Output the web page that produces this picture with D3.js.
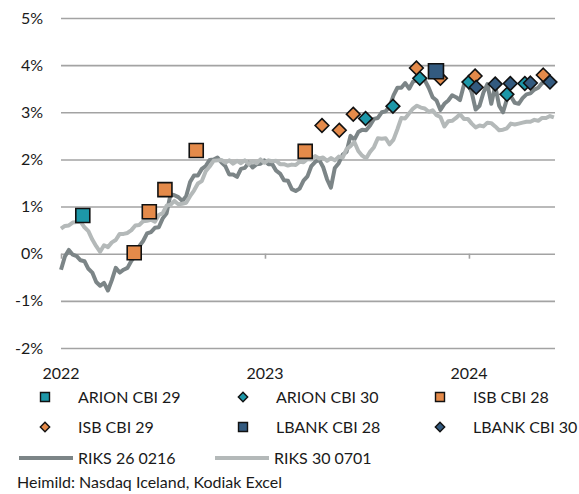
<!DOCTYPE html>
<html>
<head>
<meta charset="utf-8">
<script src="https://cdn.jsdelivr.net/npm/d3@7.9.0/dist/d3.min.js"></script>
<style>
  body { margin: 0; background: #fff; }
  svg text { font-family: Lato, "Noto Sans", sans-serif; font-size: 16px; fill: #1a1a1a; }
</style>
</head>
<body>
<div id="chart"></div>
<script>
// weekly yields (%) starting 2022-01-01
const seriesStart = '2022-01-01';
const riks26 = [
  -0.34, -0.06, 0.08, -0.02, -0.05, -0.14, -0.16, -0.32, -0.40, -0.60,
  -0.68, -0.62, -0.78, -0.56, -0.30, -0.40, -0.34, -0.30, -0.15, -0.05,
  0.16, 0.27, 0.43, 0.46, 0.55, 0.56, 0.75, 0.86, 1.26, 1.24,
  1.20, 1.12, 1.22, 1.52, 1.66, 1.66, 1.80, 1.86, 1.99, 2.00,
  2.04, 1.94, 1.86, 1.68, 1.68, 1.63, 1.80, 1.82, 1.93, 1.83,
  1.90, 1.91, 1.98, 1.90, 1.90, 1.76, 1.70, 1.56, 1.55, 1.37,
  1.33, 1.38, 1.55, 1.64, 1.86, 1.95, 1.99, 1.84, 1.58, 1.40,
  1.82, 1.92, 2.10, 2.16, 2.50, 2.42, 2.58, 2.63, 2.62, 2.72,
  2.86, 2.88, 3.00, 3.02, 3.12, 3.36, 3.52, 3.52, 3.62, 3.50,
  3.65, 3.68, 3.78, 3.68, 3.52, 3.32, 3.25, 3.05, 3.18, 3.25,
  3.36, 3.32, 3.26, 3.58, 3.62, 3.42, 3.06, 3.14, 3.42, 3.60,
  3.18, 3.56, 3.14, 3.00, 3.28, 3.34, 3.20, 3.18, 3.30, 3.38,
  3.40, 3.48, 3.52, 3.62, 3.64, 3.68, 3.63
];
const riks30 = [
  0.53, 0.59, 0.60, 0.66, 0.67, 0.68, 0.56, 0.48, 0.30, 0.16,
  0.04, 0.18, 0.14, 0.24, 0.29, 0.42, 0.42, 0.44, 0.50, 0.60,
  0.61, 0.69, 0.70, 0.72, 0.68, 0.82, 0.86, 1.02, 1.04, 1.12,
  1.05, 1.06, 1.08, 1.22, 1.34, 1.49, 1.54, 1.75, 1.85, 1.97,
  1.98, 1.99, 1.93, 1.98, 1.91, 1.97, 1.92, 1.98, 1.90, 1.96,
  1.92, 2.00, 1.93, 1.98, 1.96, 1.97, 1.90, 1.90, 1.87, 1.89,
  1.88, 1.95, 1.94, 2.01, 2.00, 2.07, 2.02, 2.04, 1.97, 2.03,
  1.98, 2.06, 2.04, 2.22, 2.28, 2.37, 2.18, 2.08, 2.02, 2.16,
  2.26, 2.45, 2.44, 2.45, 2.32, 2.42, 2.64, 2.88, 2.87, 2.98,
  3.08, 3.14, 3.10, 3.08, 3.01, 3.04, 2.94, 2.90, 2.70, 2.81,
  2.82, 2.88, 2.96, 2.86, 2.86, 2.76, 2.68, 2.72, 2.70, 2.78,
  2.77, 2.70, 2.62, 2.63, 2.66, 2.76, 2.74, 2.76, 2.78, 2.80,
  2.80, 2.84, 2.82, 2.88, 2.88, 2.92, 2.89
];

// bond auction / issue points [date, yield %]
const arionCbi29 = [['2022-02-09', 0.81]];
const arionCbi30 = [['2023-06-30', 2.87], ['2023-08-18', 3.13], ['2023-10-05', 3.72],
  ['2024-01-01', 3.64], ['2024-03-09', 3.38], ['2024-04-10', 3.61]];
const isbCbi28 = [['2022-05-12', 0.02], ['2022-06-08', 0.89], ['2022-07-06', 1.36],
  ['2022-08-31', 2.19], ['2023-03-14', 2.17]];
const isbCbi29 = [['2023-04-13', 2.72], ['2023-05-14', 2.62], ['2023-06-08', 2.96],
  ['2023-09-29', 3.94], ['2023-11-11', 3.72], ['2024-01-12', 3.77], ['2024-05-13', 3.79]];
const lbankCbi28 = [['2023-11-03', 3.87]];
const lbankCbi30 = [['2024-01-14', 3.53], ['2024-02-17', 3.60], ['2024-03-15', 3.61],
  ['2024-04-20', 3.62], ['2024-05-25', 3.64]];

const yTicks = [-2, -1, 0, 1, 2, 3, 4, 5];
const yearTicks = ['2022-01-01', '2023-01-01', '2024-01-01'];
const yearLabels = ['2022', '2023', '2024'];
const sourceText = 'Heimild: Nasdaq Iceland, Kodiak Excel';

const parse = d3.timeParse('%Y-%m-%d');
const width = 579, height = 494;
const plot = { left: 61, right: 555, top: 18, bottom: 348 };

const svg = d3.select('#chart').append('svg')
  .attr('width', width).attr('height', height);

const x = d3.scaleTime()
  .domain([parse('2022-01-01'), parse('2024-06-03')])
  .range([plot.left, plot.right]);
const y = d3.scaleLinear()
  .domain([-2, 5])
  .range([plot.bottom, plot.top]);

// gridlines + y labels
const yAxis = svg.append('g')
  .attr('transform', `translate(${plot.left},0)`)
  .call(d3.axisLeft(y).tickValues(yTicks)
    .tickSize(-(plot.right - plot.left))
    .tickPadding(18)
    .tickFormat(d => `${d}%`));
yAxis.select('.domain').remove();
yAxis.selectAll('line').attr('stroke', '#a3a3a3').attr('stroke-width', 1.6);
yAxis.selectAll('text').attr('fill', '#1a1a1a').style('font-size', '16px');

// year tick marks sit on the 0% line
const xAxis = svg.append('g')
  .attr('transform', `translate(0,${y(0)})`)
  .call(d3.axisBottom(x).tickValues(yearTicks.map(parse)).tickSize(5).tickFormat(''));
xAxis.select('.domain').remove();
xAxis.selectAll('line').attr('stroke', '#a3a3a3').attr('stroke-width', 1.6);

svg.append('g').selectAll('text')
  .data(yearTicks)
  .join('text')
  .attr('x', d => x(parse(d)))
  .attr('y', 373)
  .attr('dy', '0.35em')
  .attr('text-anchor', 'middle')
  .text((d, i) => yearLabels[i]);

// lines
const start = parse(seriesStart);
const toPts = vals => vals.map((v, i) => [d3.timeDay.offset(start, 7 * i), v]);
const line = d3.line().x(d => x(d[0])).y(d => y(d[1]));

const lineStyles = [
  { name: 'RIKS 26 0216', values: riks26, color: '#7c8587' },
  { name: 'RIKS 30 0701', values: riks30, color: '#b4b9b9' },
];
svg.append('g').selectAll('path')
  .data(lineStyles)
  .join('path')
  .attr('d', d => line(toPts(d.values)))
  .attr('fill', 'none')
  .attr('stroke', d => d.color)
  .attr('stroke-width', 4)
  .attr('stroke-linejoin', 'round');

// markers
const teal = '#1d97a8', orange = '#e48a4a', navy = '#335a7f';
const markerSeries = [
  { name: 'ARION CBI 29', pts: arionCbi29, shape: 'square', color: teal },
  { name: 'ARION CBI 30', pts: arionCbi30, shape: 'diamond', color: teal },
  { name: 'ISB CBI 28', pts: isbCbi28, shape: 'square', color: orange },
  { name: 'ISB CBI 29', pts: isbCbi29, shape: 'diamond', color: orange },
  { name: 'LBANK CBI 28', pts: lbankCbi28, shape: 'square', color: navy },
  { name: 'LBANK CBI 30', pts: lbankCbi30, shape: 'diamond', color: navy },
];

function shapePath(shape, s) {
  if (shape === 'square') {
    const h = s / 2;
    return `M${-h},${-h}H${h}V${h}H${-h}Z`;
  }
  const h = s * 0.72;
  return `M0,${-h}L${h},0L0,${h}L${-h},0Z`;
}

markerSeries.forEach(ser => {
  const size = ser.name === 'LBANK CBI 28' ? 15 : 14;
  svg.append('g').selectAll('path')
    .data(ser.pts)
    .join('path')
    .attr('transform', d => `translate(${x(parse(d[0]))},${y(d[1])})`)
    .attr('d', shapePath(ser.shape, ser.shape === 'square' ? size : 9.5))
    .attr('fill', ser.color)
    .attr('stroke', '#111')
    .attr('stroke-width', 1.6);
});

// legend
const legCols = [45, 243, 440];
const legRows = [397, 427];
const legend = svg.append('g');
markerSeries.forEach((ser, i) => {
  const cx = legCols[i % 3], cy = legRows[Math.floor(i / 3)];
  const g = legend.append('g');
  g.append('path')
    .attr('transform', `translate(${cx},${cy})`)
    .attr('d', shapePath(ser.shape, ser.shape === 'square' ? 9 : 6.5))
    .attr('fill', ser.color)
    .attr('stroke', '#111')
    .attr('stroke-width', 1.4);
  g.append('text')
    .attr('x', cx + 33).attr('y', cy).attr('dy', '0.35em')
    .text(ser.name);
});
lineStyles.forEach((ls, i) => {
  const x0 = [19, 215][i], cy = 458;
  legend.append('line')
    .attr('x1', x0).attr('x2', x0 + 54).attr('y1', cy).attr('y2', cy)
    .attr('stroke', ls.color).attr('stroke-width', 4);
  legend.append('text')
    .attr('x', x0 + 59).attr('y', cy).attr('dy', '0.35em')
    .text(ls.name);
});

svg.append('text')
  .attr('x', 17).attr('y', 482).attr('dy', '0.35em')
  .text(sourceText);
</script>
</body>
</html>
